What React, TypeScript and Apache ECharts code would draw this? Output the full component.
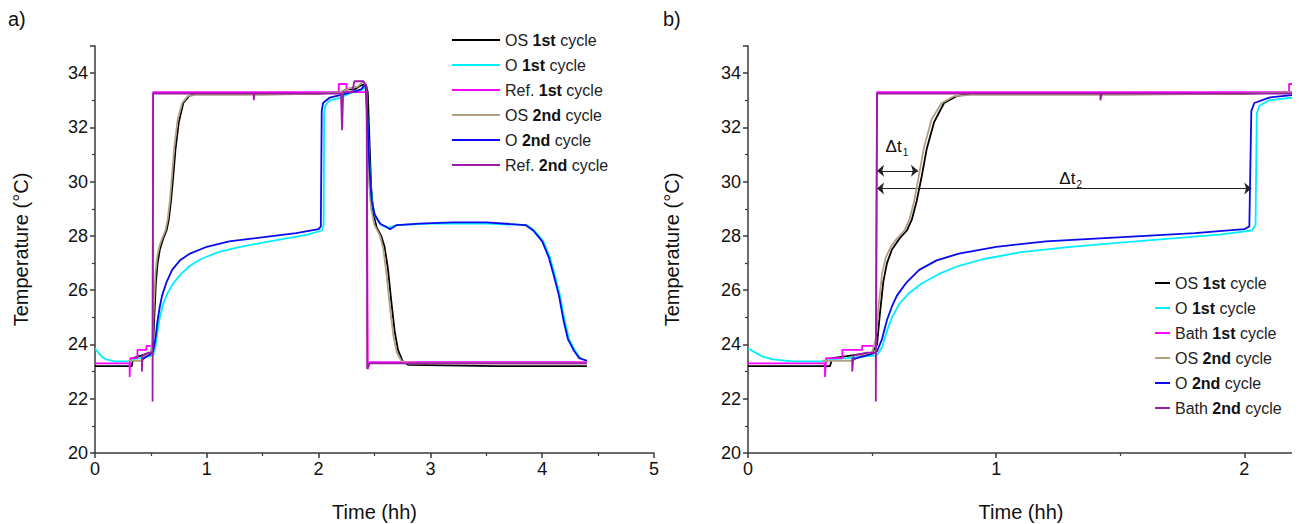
import React, { useEffect, useRef } from "react";
import * as echarts from "echarts";

type P = [number, number];

// Time (h), Temperature (°C)
const osFirst: P[] = [
  [0, 23.2], [0.33, 23.2], [0.34, 23.5], [0.42, 23.6], [0.5, 23.7], [0.52, 24.0], [0.53, 25.0],
  [0.545, 26.3], [0.56, 27.0], [0.58, 27.5], [0.61, 27.9], [0.64, 28.2], [0.66, 28.6], [0.68, 29.3],
  [0.7, 30.2], [0.72, 31.2], [0.75, 32.2], [0.79, 32.9], [0.84, 33.15], [0.9, 33.25], [1.6, 33.25],
  [2.0, 33.25], [2.2, 33.3], [2.25, 33.4], [2.32, 33.4], [2.38, 33.55], [2.42, 33.6], [2.44, 33.3],
  [2.455, 31.5], [2.47, 29.8], [2.49, 28.8], [2.52, 28.3], [2.56, 28.0], [2.59, 27.6], [2.62, 26.8],
  [2.65, 25.6], [2.68, 24.5], [2.71, 23.8], [2.75, 23.4], [2.8, 23.25], [3.6, 23.2], [4.4, 23.2],
];
const oFirst: P[] = [
  [0, 23.85], [0.03, 23.7], [0.06, 23.55], [0.1, 23.45], [0.18, 23.38], [0.31, 23.38], [0.33, 23.45],
  [0.4, 23.5], [0.46, 23.55], [0.52, 23.6], [0.54, 23.9], [0.56, 24.5], [0.58, 25.0], [0.61, 25.5],
  [0.65, 25.9], [0.7, 26.25], [0.77, 26.6], [0.85, 26.9], [0.95, 27.15], [1.1, 27.4], [1.3, 27.6],
  [1.5, 27.75], [1.7, 27.9], [1.9, 28.05], [2.03, 28.2], [2.045, 28.4], [2.05, 32.5], [2.06, 32.8],
  [2.1, 33.0], [2.2, 33.1], [2.3, 33.3], [2.4, 33.4], [2.425, 33.5], [2.44, 32.0], [2.46, 30.2],
  [2.48, 29.2], [2.51, 28.7], [2.56, 28.4], [2.62, 28.3], [2.7, 28.4], [3.0, 28.45], [3.5, 28.45],
  [3.86, 28.4], [3.93, 28.2], [4.01, 27.8], [4.07, 27.2], [4.11, 26.6], [4.16, 25.8], [4.2, 24.9],
  [4.24, 24.2], [4.29, 23.8], [4.34, 23.5], [4.4, 23.4],
];
const refFirst: P[] = [
  [0, 23.3], [0.31, 23.3], [0.31, 22.8], [0.315, 23.5], [0.38, 23.5], [0.38, 23.8], [0.46, 23.8],
  [0.46, 23.95], [0.515, 23.95], [0.52, 33.3], [1.5, 33.3], [2.18, 33.3], [2.18, 33.6], [2.25, 33.6],
  [2.25, 33.3], [2.43, 33.3], [2.44, 23.1], [2.46, 23.35], [3.0, 23.35], [4.4, 23.35],
];
const osSecond: P[] = [
  [0.3, 23.4], [0.42, 23.4], [0.46, 23.6], [0.5, 23.7], [0.515, 24.2], [0.525, 25.3], [0.54, 26.6],
  [0.555, 27.2], [0.575, 27.6], [0.6, 27.9], [0.63, 28.2], [0.65, 28.6], [0.67, 29.3], [0.69, 30.3],
  [0.71, 31.3], [0.74, 32.3], [0.78, 32.9], [0.83, 33.15], [0.9, 33.2], [1.5, 33.2], [2.0, 33.25],
  [2.2, 33.3], [2.28, 33.45], [2.35, 33.5], [2.4, 33.7], [2.42, 33.6], [2.435, 32.0], [2.45, 30.0],
  [2.47, 29.0], [2.5, 28.4], [2.55, 28.0], [2.58, 27.5], [2.61, 26.5], [2.64, 25.3], [2.67, 24.3],
  [2.7, 23.7], [2.74, 23.4], [2.8, 23.3], [4.4, 23.3],
];
const oSecond: P[] = [
  [0.42, 23.45], [0.46, 23.55], [0.5, 23.65], [0.52, 23.75], [0.54, 24.2], [0.56, 24.9], [0.58, 25.4],
  [0.6, 25.8], [0.64, 26.3], [0.69, 26.75], [0.76, 27.1], [0.85, 27.35], [1.0, 27.6], [1.2, 27.8],
  [1.4, 27.9], [1.6, 28.0], [1.8, 28.1], [2.0, 28.25], [2.02, 28.35], [2.028, 32.6], [2.04, 32.9],
  [2.1, 33.1], [2.2, 33.2], [2.3, 33.3], [2.38, 33.4], [2.42, 33.6], [2.435, 32.5], [2.455, 30.5],
  [2.475, 29.3], [2.5, 28.8], [2.55, 28.45], [2.6, 28.35], [2.64, 28.25], [2.7, 28.4], [2.9, 28.45],
  [3.2, 28.5], [3.5, 28.5], [3.85, 28.4], [3.92, 28.2], [4.0, 27.8], [4.06, 27.2], [4.1, 26.6],
  [4.15, 25.8], [4.19, 24.9], [4.23, 24.2], [4.28, 23.8], [4.33, 23.5], [4.4, 23.4],
];
const refSecond: P[] = [
  [0.42, 23.5], [0.42, 23.0], [0.425, 23.6], [0.48, 23.7], [0.515, 23.7], [0.515, 21.9], [0.52, 33.25],
  [1.42, 33.25], [1.42, 33.0], [1.425, 33.25], [2.2, 33.25], [2.21, 31.9], [2.22, 33.3], [2.3, 33.3],
  [2.32, 33.7], [2.4, 33.7], [2.43, 33.5], [2.435, 23.1], [2.45, 23.3], [4.4, 23.3],
];

const namesA = ["OS 1st cycle", "O 1st cycle", "Ref. 1st cycle", "OS 2nd cycle", "O 2nd cycle", "Ref. 2nd cycle"];
const namesB = ["OS 1st cycle", "O 1st cycle", "Bath 1st cycle", "OS 2nd cycle", "O 2nd cycle", "Bath 2nd cycle"];
const seriesData = [osFirst, oFirst, refFirst, osSecond, oSecond, refSecond];
const colors = ["#000000", "#00eeff", "#ff00ff", "#b0a183", "#0a0af0", "#a01aa8"];

// Δt annotations (panel b)
const dt1: [P, P] = [[0.52, 30.4], [0.685, 30.4]];
const dt2: [P, P] = [[0.52, 29.75], [2.028, 29.75]];
const dt1Label: P = [0.6, 31.3];
const dt2Label: P = [1.3, 30.1];

const FONT = "Liberation Sans";

function richName(name: string) {
  const m = name.match(/^(.*?)(1st|2nd)(.*)$/);
  if (!m) return name;
  return `{n|${m[1]}}{b|${m[2]}}{n|${m[3]}}`;
}

export default function App() {
  const ref = useRef<HTMLDivElement>(null);
  useEffect(() => {
    if (!ref.current) return;
    const chart = echarts.init(ref.current, undefined, { renderer: "svg" });

    const axisCommon = {
      axisLine: { show: true, lineStyle: { color: "#3a3a3a", width: 1.5 } },
      axisTick: { show: true, length: 5, lineStyle: { color: "#3a3a3a", width: 1.5 } },
      minorTick: { show: true, splitNumber: 2, length: 3, lineStyle: { color: "#3a3a3a", width: 1.2 } },
      splitLine: { show: false },
      axisLabel: { color: "#111", fontSize: 18, fontFamily: FONT, showMaxLabel: false, margin: 7 },
      nameTextStyle: { color: "#111", fontSize: 20, fontFamily: FONT },
      nameLocation: "middle" as const,
    };

    const legendCommon = {
      orient: "vertical" as const,
      icon: "rect",
      itemHeight: 2,
      itemGap: 7,
      formatter: (n: string) => richName(n),
      textStyle: {
        color: "#222",
        fontSize: 16,
        fontFamily: FONT,
        lineHeight: 18,
        rich: {
          n: { fontSize: 16, fontFamily: FONT, color: "#222", lineHeight: 18 },
          b: { fontSize: 16, fontFamily: FONT, color: "#111", fontWeight: "bold", lineHeight: 18 },
        },
      },
      selectedMode: false,
    };

    const series: any[] = [];
    seriesData.forEach((d, i) => {
      series.push({
        type: "line",
        name: namesA[i],
        xAxisIndex: 0,
        yAxisIndex: 0,
        data: d,
        showSymbol: false,
        symbol: "none",
        color: colors[i],
        lineStyle: { color: colors[i], width: 1.8 },
        z: 2 + i,
      });
    });
    seriesData.forEach((d, i) => {
      const s: any = {
        type: "line",
        name: namesB[i],
        xAxisIndex: 1,
        yAxisIndex: 1,
        data: d,
        showSymbol: false,
        symbol: "none",
        color: colors[i],
        lineStyle: { color: colors[i], width: 1.8 },
        z: 2 + i,
      };
      if (i === 0) {
        s.markLine = {
          silent: true,
          symbol: ["arrow", "arrow"],
          symbolSize: [9, 7],
          label: { show: false },
          lineStyle: { color: "#222", width: 1, type: "solid" },
          data: [
            [{ coord: dt1[0] }, { coord: dt1[1] }],
            [{ coord: dt2[0] }, { coord: dt2[1] }],
          ],
        };
        s.markPoint = {
          silent: true,
          symbol: "circle",
          symbolSize: 0,
          label: {
            show: true,
            position: "inside",
            color: "#111",
            fontFamily: FONT,
            rich: {
              a: { fontSize: 17, fontFamily: FONT, color: "#111" },
              s: { fontSize: 10, fontFamily: FONT, color: "#111", padding: [12, 0, 0, 1] },
            },
          },
          data: [
            { coord: dt1Label, label: { formatter: "{a|Δt}{s|1}" } },
            { coord: dt2Label, label: { formatter: "{a|Δt}{s|2}" } },
          ],
        };
      }
      series.push(s);
    });

    chart.setOption({
      animation: false,
      backgroundColor: "#fff",
      grid: [
        { left: 87, right: 654, top: 38, bottom: 79 },
        { left: 740, right: 14, top: 38, bottom: 79 },
      ],
      xAxis: [
        {
          ...axisCommon, type: "value", gridIndex: 0, min: 0, max: 5, interval: 1, name: "Time (hh)", nameGap: 49,
          axisLabel: { ...axisCommon.axisLabel, showMaxLabel: true },
        },
        { ...axisCommon, type: "value", gridIndex: 1, min: 0, max: 2.2, interval: 1, name: "Time (hh)", nameGap: 49 },
      ],
      yAxis: [
        { ...axisCommon, type: "value", gridIndex: 0, min: 20, max: 35, interval: 2, name: "Temperature (°C)", nameGap: 64 },
        { ...axisCommon, type: "value", gridIndex: 1, min: 20, max: 35, interval: 2, name: "Temperature (°C)", nameGap: 66 },
      ],
      legend: [
        { ...legendCommon, data: namesA, left: 439, top: 18, itemWidth: 48 },
        { ...legendCommon, data: namesB, left: 1142, top: 261, itemWidth: 15 },
      ],
      graphic: [
        { type: "text", left: 0, top: 1, style: { text: "a)", fontSize: 20, fontFamily: FONT, fill: "#111" } },
        { type: "text", left: 655, top: 1, style: { text: "b)", fontSize: 20, fontFamily: FONT, fill: "#111" } },
      ],
      series,
    });

    return () => chart.dispose();
  }, []);

  return <div ref={ref} style={{ width: 1300, height: 524 }} />;
}
